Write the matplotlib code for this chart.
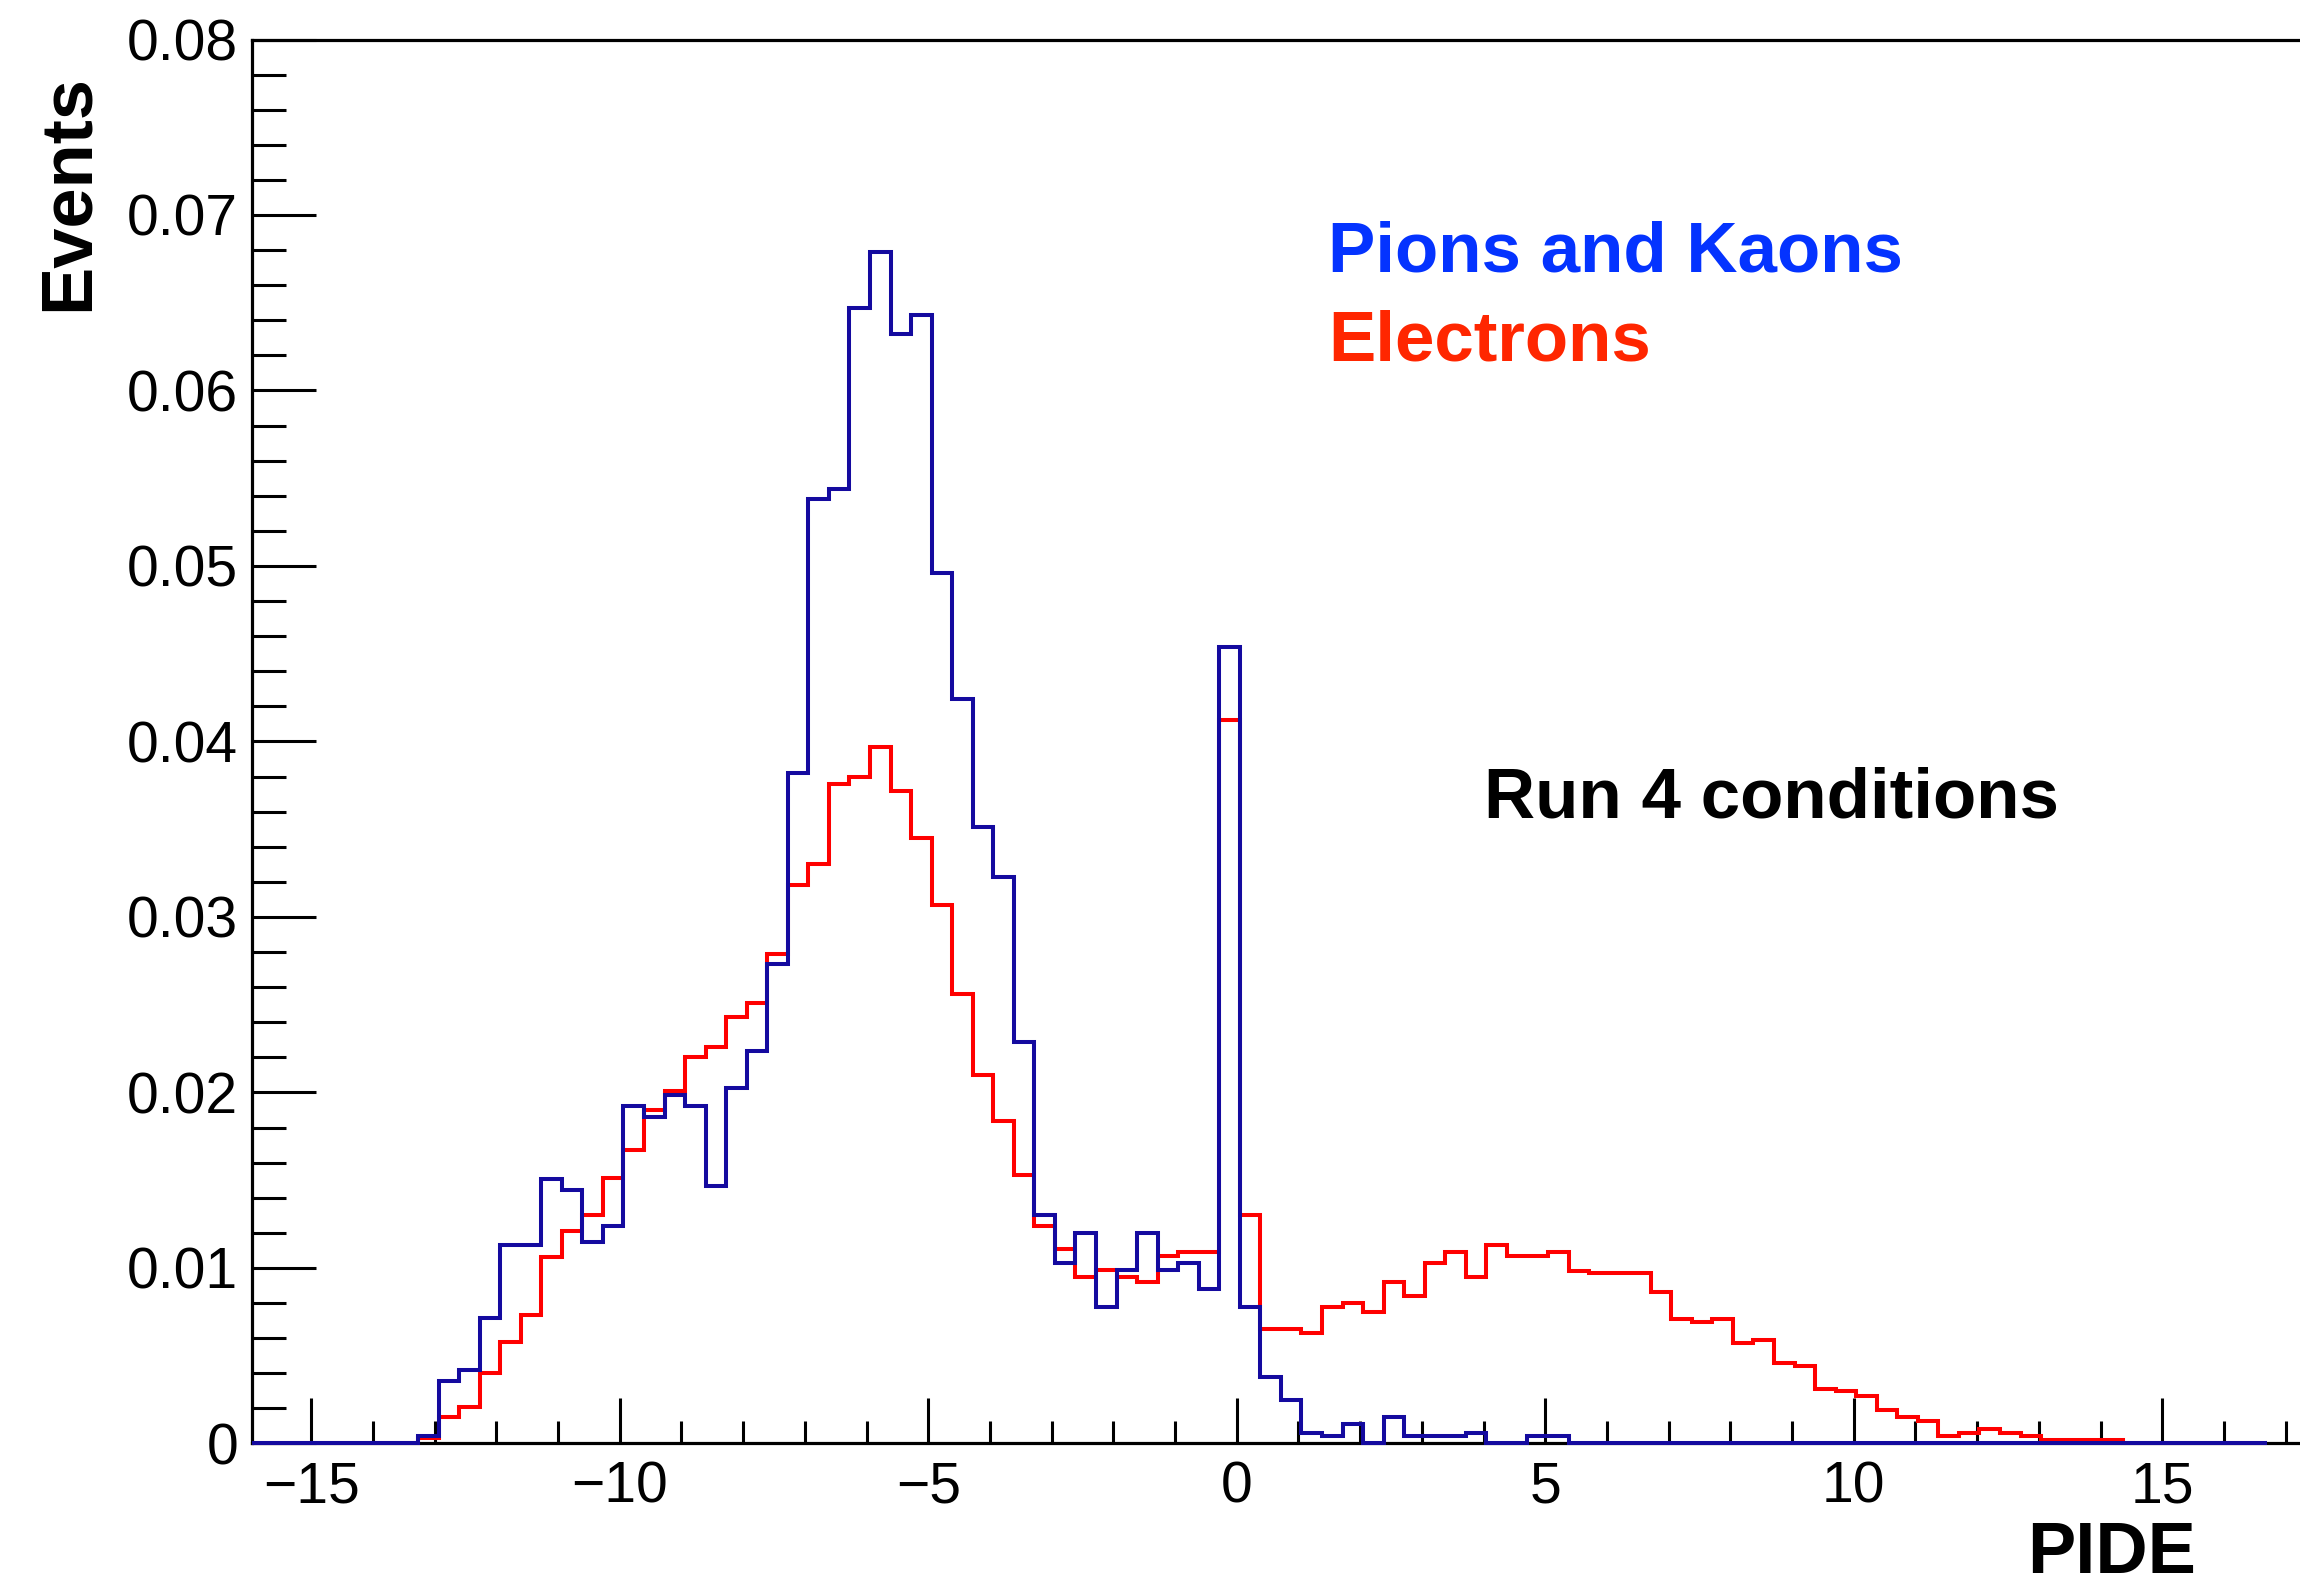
import numpy as np
import matplotlib
matplotlib.use("Agg")
import matplotlib.pyplot as plt
from matplotlib.ticker import MultipleLocator, FixedLocator, FixedFormatter
from matplotlib.patches import Rectangle

plt.rcParams['font.family'] = ['Liberation Sans', 'DejaVu Sans']

# ---- histogram binning (100 bins) ----
hist_lo = -16.6
hist_hi = 16.7
n_bins = 100
first_bin = 10

# ---- Pions and Kaons (blue), bins 10..65 ----
pions_kaons = [
    0.00045, 0.00355, 0.0042, 0.00714, 0.0113, 0.0113, 0.01505, 0.01444,
    0.0115, 0.01237, 0.01923, 0.0186, 0.01986, 0.01923, 0.01465, 0.02028,
    0.02235, 0.0273, 0.0382, 0.0538, 0.0544, 0.0647, 0.0679, 0.0632,
    0.0643, 0.0496, 0.0424, 0.0351, 0.0323, 0.0229, 0.0130, 0.0103,
    0.0120, 0.0078, 0.0099, 0.0120, 0.0099, 0.0103, 0.0088, 0.0454,
    0.0078, 0.0038, 0.0025, 0.0006, 0.0004, 0.0011, 0.0, 0.0015,
    0.0004, 0.0004, 0.0004, 0.0006, 0.0, 0.0, 0.0004, 0.0004,
]

# ---- Electrons (red), bins 10..92 ----
electrons = [
    0.0003, 0.0015, 0.0021, 0.0040, 0.0058, 0.0073, 0.01065, 0.0121,
    0.0130, 0.0151, 0.0167, 0.0190, 0.0201, 0.0220, 0.0226, 0.0243,
    0.0251, 0.0279, 0.0318, 0.0330, 0.0376, 0.0380, 0.0397, 0.0372,
    0.0345, 0.0307, 0.0256, 0.0210, 0.0184, 0.0153, 0.0124, 0.0111,
    0.0095, 0.0099, 0.0095, 0.0092, 0.0107, 0.0109, 0.0109, 0.0412,
    0.0130, 0.0065, 0.0065, 0.0063, 0.0078, 0.0080, 0.0075, 0.0092,
    0.0084, 0.0103, 0.0109, 0.0095, 0.0113, 0.0107, 0.0107, 0.0109,
    0.0098, 0.0097, 0.0097, 0.0097, 0.0086, 0.0071, 0.0069, 0.0071,
    0.0057, 0.0059, 0.0046, 0.0044, 0.0031, 0.0030, 0.0027, 0.0019,
    0.0015, 0.0013, 0.0004, 0.0006, 0.0008, 0.0006, 0.0004, 0.0002,
    0.0002, 0.0002, 0.0002,
]

x_ticks = [-15, -10, -5, 0, 5, 10, 15]
x_tick_labels = ['\u221215', '\u221210', '\u22125', '0', '5', '10', '15']
y_ticks = [0, 0.01, 0.02, 0.03, 0.04, 0.05, 0.06, 0.07, 0.08]
y_tick_labels = ['0', '0.01', '0.02', '0.03', '0.04', '0.05', '0.06', '0.07', '0.08']

x_label = 'PIDE'
y_label = 'Events'
legend_pk = 'Pions and Kaons'
legend_el = 'Electrons'
note = 'Run 4 conditions'

# ---- figure ----
W, H = 2300, 1591
fig = plt.figure(figsize=(W / 100, H / 100), dpi=100)
xmin, xmax = -15.96, 18.0
px_per_unit = 61.7
ax_left = 252 / W
ax_bottom = (H - 1443.4) / H
ax_top = (H - 39.5) / H
ax_w = (xmax - xmin) * px_per_unit / W
ax = fig.add_axes([ax_left, ax_bottom, ax_w, ax_top - ax_bottom])
ax.set_xlim(xmin, xmax)
ax.set_ylim(0, 0.08)

edges = np.linspace(hist_lo, hist_hi, n_bins + 1)

def full(vals):
    v = np.zeros(n_bins)
    v[first_bin:first_bin + len(vals)] = vals
    return v

clip = Rectangle((0, -0.02), 1, 1.04, transform=ax.transAxes)
s_el = ax.stairs(full(electrons), edges, baseline=None, color='#ff0000',
                 linewidth=2.9, zorder=3)
s_pk = ax.stairs(full(pions_kaons), edges, baseline=None, color='#140a9f',
                 linewidth=2.9, zorder=3.1)
for s in (s_el, s_pk):
    s.set_clip_path(clip)

# spines
for sp in ax.spines.values():
    sp.set_linewidth(2.3)
    sp.set_color('black')

# ticks
ax.xaxis.set_major_locator(FixedLocator(x_ticks))
ax.xaxis.set_major_formatter(FixedFormatter(x_tick_labels))
ax.xaxis.set_minor_locator(MultipleLocator(1))
ax.yaxis.set_major_locator(FixedLocator(y_ticks))
ax.yaxis.set_major_formatter(FixedFormatter(y_tick_labels))
ax.yaxis.set_minor_locator(MultipleLocator(0.002))

ax.tick_params(axis='x', which='major', direction='in', length=32.4, width=2.2,
               top=False, bottom=True, labelsize=41, pad=12)
ax.tick_params(axis='x', which='minor', direction='in', length=16.2, width=2.2,
               top=False, bottom=True)
ax.tick_params(axis='y', which='major', direction='in', length=45.9, width=2.2,
               left=True, right=False, labelsize=41, pad=10)
ax.tick_params(axis='y', which='minor', direction='in', length=24.5, width=2.2,
               left=True, right=False)

# texts
fig.text(1328 / W, (H - 271) / H, legend_pk, color='#0433ff', fontsize=51,
         fontweight='bold', ha='left', va='baseline')
fig.text(1328 / W, (H - 360.7) / H, legend_el, color='#ff2600', fontsize=51,
         fontweight='bold', ha='left', va='baseline')
fig.text(1484 / W, (H - 818) / H, note, color='black', fontsize=51,
         fontweight='bold', ha='left', va='baseline')
fig.text(2196 / W, (H - 1573) / H, x_label, color='black', fontsize=52,
         fontweight='bold', ha='right', va='baseline')
fig.text(88 / W, (H - 74) / H, y_label, color='black', fontsize=52,
         fontweight='bold', rotation=90, rotation_mode='anchor',
         ha='right', va='baseline')

fig.savefig('out.png', dpi=100)
